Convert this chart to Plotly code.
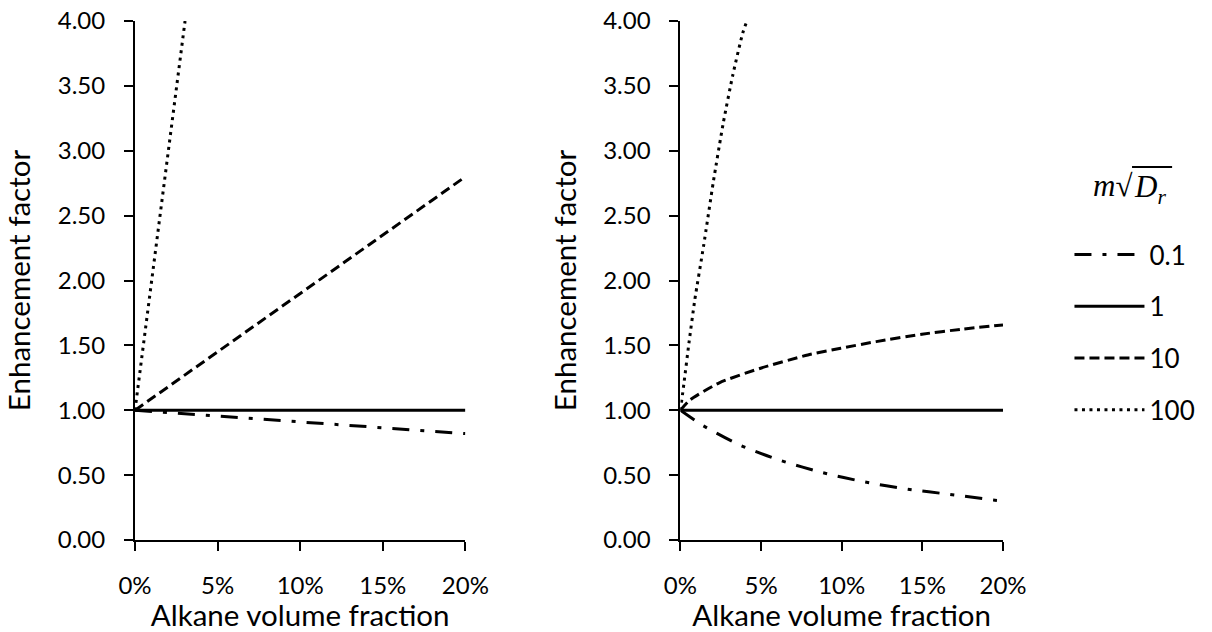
import plotly.graph_objects as go

# ---------------- data ----------------
series_labels = ["0.1", "1", "10", "100"]

# Left panel (linear)
left_x_01 = [0.0, 0.20]
left_y_01 = [1.00, 0.82]
left_x_1 = [0.0, 0.20]
left_y_1 = [1.00, 1.00]
left_x_10 = [0.0, 0.20]
left_y_10 = [1.00, 2.80]
left_x_100 = [0.0, 0.0303]
left_y_100 = [1.00, 4.00]

# Right panel (curved)
right_x_01 = [0.0, 0.0133, 0.0376, 0.0624, 0.0881, 0.1144, 0.141, 0.1669, 0.194, 0.20]
right_y_01 = [1.00, 0.887, 0.727, 0.612, 0.519, 0.447, 0.391, 0.352, 0.308, 0.300]
right_x_1 = [0.0, 0.20]
right_y_1 = [1.00, 1.00]
right_x_10 = [0.0, 0.006, 0.0244, 0.0497, 0.079, 0.0994, 0.1214, 0.1497, 0.174, 0.20]
right_y_10 = [1.00, 1.08, 1.213, 1.324, 1.426, 1.478, 1.529, 1.586, 1.624, 1.658]
right_x_100 = [0.0, 0.0022, 0.0053, 0.0089, 0.0144, 0.0204, 0.0265, 0.0325, 0.0386, 0.0412]
right_y_100 = [1.00, 1.21, 1.52, 1.85, 2.27, 2.76, 3.21, 3.585, 3.906, 4.00]

y_ticks = [0, 0.5, 1.0, 1.5, 2.0, 2.5, 3.0, 3.5, 4.0]
x_ticks = [0, 0.05, 0.10, 0.15, 0.20]

# ---------------- styles ----------------
dash_styles = ["17px,11px,4px,11px", "solid", "10px,5px", "3px,4.5px"]
line_widths = [3, 3, 3, 3]
FONT = "Lato"
MATH = "Liberation Serif"

left_sets = [(left_x_01, left_y_01), (left_x_1, left_y_1), (left_x_10, left_y_10), (left_x_100, left_y_100)]
right_sets = [(right_x_01, right_y_01), (right_x_1, right_y_1), (right_x_10, right_y_10), (right_x_100, right_y_100)]

fig = go.Figure()
for i, (xs, ys) in enumerate(left_sets):
    fig.add_trace(go.Scatter(x=xs, y=ys, mode="lines", name=series_labels[i],
                             line=dict(color="black", width=line_widths[i], dash=dash_styles[i]),
                             showlegend=False, xaxis="x", yaxis="y"))
for i, (xs, ys) in enumerate(right_sets):
    fig.add_trace(go.Scatter(x=xs, y=ys, mode="lines", name=series_labels[i],
                             line=dict(color="black", width=line_widths[i], dash=dash_styles[i],
                                       shape="spline", smoothing=0.6),
                             legendgroup=series_labels[i],
                             showlegend=True, xaxis="x2", yaxis="y2"))

axis_common = dict(showgrid=False, zeroline=False, showline=True, linecolor="black", linewidth=2,
                   ticks="outside", ticklen=9, tickwidth=2, tickcolor="black",
                   tickfont=dict(family=FONT, size=24, color="black"), automargin=False)

xcommon = dict(axis_common, range=[0, 0.2], tickvals=x_ticks, tickformat=".0%",
               ticklabelstandoff=14,
               title=dict(text="Alkane volume fraction", font=dict(family=FONT, size=29.5, color="black"),
                          standoff=14))
ycommon = dict(axis_common, range=[0, 4], tickvals=y_ticks, tickformat=".2f",
               ticklabelstandoff=14,
               title=dict(text="Enhancement factor", font=dict(family=FONT, size=29.5, color="black"),
                          standoff=18))

W, H = 1212, 632
ml, mr, mt, mb = 135, 189, 21, 92
pw = W - ml - mr
ph = H - mt - mb


def px(xpix):
    return (xpix - ml) / pw


def py(ypix):
    return (H - mb - ypix) / ph


fig.update_layout(
    width=W, height=H,
    margin=dict(l=ml, r=mr, t=mt, b=mb),
    paper_bgcolor="white", plot_bgcolor="white",
    font=dict(family=FONT, color="black"),
    xaxis=dict(xcommon, domain=[0, 338 / pw], anchor="y"),
    yaxis=dict(ycommon, domain=[0, 1], anchor="x"),
    xaxis2=dict(xcommon, domain=[px(693), 1.0], anchor="y2"),
    yaxis2=dict(ycommon, domain=[0, 1], anchor="x2"),
    legend=dict(x=px(1091), xanchor="left", y=py(231), yanchor="top",
                font=dict(family=FONT, size=26, color="black"),
                itemwidth=70, tracegroupgap=15, bgcolor="rgba(0,0,0,0)"),
    annotations=[
        dict(text="<i>m</i>√", xref="paper", yref="paper", x=px(1157), y=py(185),
             xanchor="right", yanchor="middle", showarrow=False,
             font=dict(family=MATH, size=31, color="black")),
        dict(text="<i>D<sub>r</sub></i>", xref="paper", yref="paper", x=px(1155), y=py(189),
             xanchor="left", yanchor="middle", showarrow=False,
             font=dict(family=MATH, size=31, color="black")),
    ],
    shapes=[dict(type="line", xref="paper", yref="paper", x0=px(1155), x1=px(1196),
                 y0=py(167), y1=py(167), line=dict(color="black", width=2))],
)

fig.write_html("out.html")
